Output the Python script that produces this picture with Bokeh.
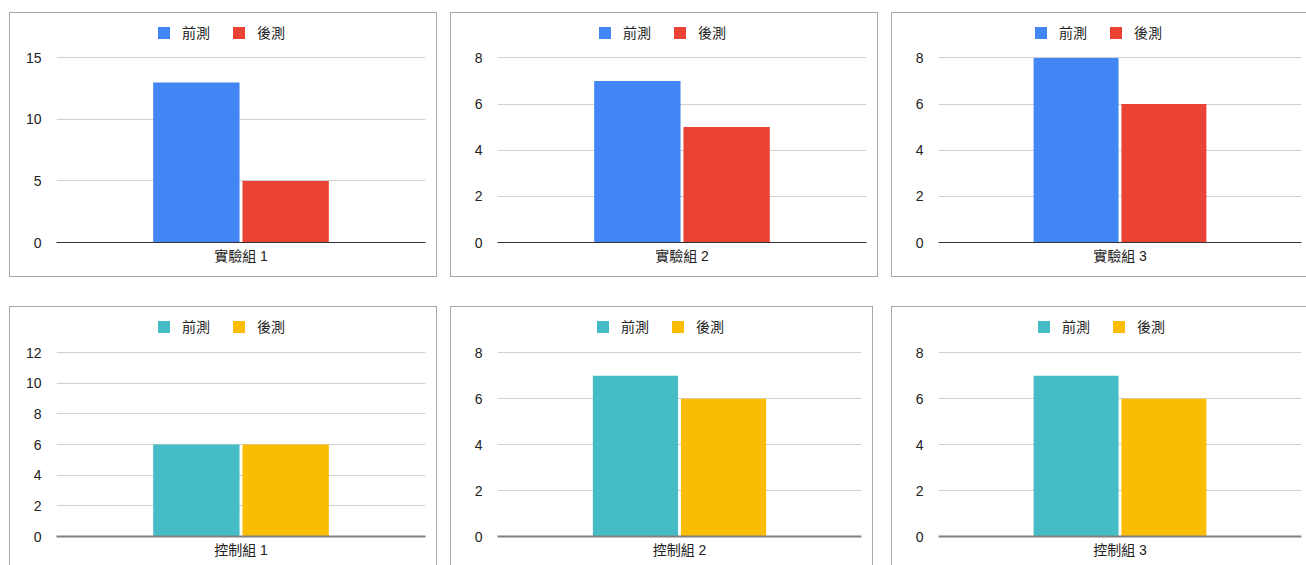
from bokeh.plotting import figure
from bokeh.models import FactorRange, Range1d, FixedTicker, Legend, LegendItem, ColumnDataSource
from bokeh.transform import dodge
from bokeh.layouts import row, column
from bokeh.embed import file_html
from bokeh.resources import INLINE

# ---- data ----
series_labels = ["前測", "後測"]

groups_exp = ["實驗組 1", "實驗組 2", "實驗組 3"]
pre_exp = [13, 7, 8]
post_exp = [5, 5, 6]
ymax_exp = [15, 8, 8]
ystep_exp = [5, 2, 2]

groups_ctrl = ["控制組 1", "控制組 2", "控制組 3"]
pre_ctrl = [6, 7, 7]
post_ctrl = [6, 6, 6]
ymax_ctrl = [12, 8, 8]
ystep_ctrl = [2, 2, 2]

colors_exp = ["#4285F4", "#EA4335"]
colors_ctrl = ["#46BDC6", "#FBBC04"]

FONT = "Liberation Sans, Noto Sans CJK TC"
TXT = "#222222"
BORDER = "1px solid #a8a8a8"
AXIS_PX = 183  # pixel height of the value axis from 0 to its max


def make_panel(group, pre, post, colors, ymax, step, width, height, inner_h,
               mb, top_gap, borders, baseline_color, baseline_width, legend_x, margin):
    frame_h = inner_h - mb[3]
    y_end = ymax * frame_h / AXIS_PX
    p = figure(x_range=FactorRange(factors=[group]), y_range=Range1d(0, y_end),
               width=width, height=height, output_backend="svg",
               toolbar_location=None, min_border_left=mb[0], min_border_right=mb[1],
               min_border_top=0, min_border_bottom=mb[3])
    src = ColumnDataSource(dict(g=[group], pre=[pre], post=[post]))
    r1 = p.vbar(x=dodge("g", -0.121, range=p.x_range), top="pre", width=0.234,
                source=src, fill_color=colors[0], line_color=None)
    r2 = p.vbar(x=dodge("g", 0.121, range=p.x_range), top="post", width=0.234,
                source=src, fill_color=colors[1], line_color=None)

    p.outline_line_color = None
    p.background_fill_color = "white"
    p.border_fill_color = "white"
    p.xgrid.grid_line_color = None
    p.ygrid.grid_line_color = "#d0d0d0"
    p.ygrid.grid_line_width = 1
    p.yaxis.ticker = FixedTicker(ticks=list(range(0, ymax + 1, step)))
    p.yaxis.axis_line_color = None
    p.yaxis.major_tick_line_color = None
    p.yaxis.minor_tick_line_color = None
    p.yaxis.major_label_standoff = 9
    p.yaxis.major_label_text_font = FONT
    p.yaxis.major_label_text_font_size = "14px"
    p.yaxis.major_label_text_color = TXT

    p.xaxis.axis_line_color = baseline_color
    p.xaxis.axis_line_width = baseline_width
    p.xaxis.major_tick_line_color = None
    p.xaxis.minor_tick_line_color = None
    p.xaxis.major_label_standoff = -1
    p.xaxis.major_label_text_font = FONT
    p.xaxis.major_label_text_font_size = "14px"
    p.xaxis.major_label_text_color = TXT

    legend = Legend(items=[LegendItem(label=series_labels[0], renderers=[r1]),
                           LegendItem(label=series_labels[1], renderers=[r2])],
                    orientation="horizontal", location=(legend_x, frame_h - top_gap),
                    glyph_width=15, glyph_height=15, label_height=15,
                    label_standoff=11, spacing=21, padding=0, margin=0,
                    border_line_color=None, background_fill_alpha=0,
                    label_text_font=FONT, label_text_font_size="14px",
                    label_text_color=TXT)
    p.add_layout(legend, "center")

    p.styles = borders
    p.margin = margin
    return p


full = {"border": BORDER}
no_right = {"border-top": BORDER, "border-bottom": BORDER, "border-left": BORDER}
no_bottom = {"border-top": BORDER, "border-left": BORDER, "border-right": BORDER}
top_left_only = {"border-top": BORDER, "border-left": BORDER}

p1 = make_panel(groups_exp[0], pre_exp[0], post_exp[0], colors_exp, ymax_exp[0], ystep_exp[0],
                428, 265, 263, (46, 13, 0, 36), 27, full, "#333333", 1, 100, (12, 0, 0, 9))
p2 = make_panel(groups_exp[1], pre_exp[1], post_exp[1], colors_exp, ymax_exp[1], ystep_exp[1],
                428, 265, 263, (46, 13, 0, 36), 27, full, "#333333", 1, 100, (12, 0, 0, 13))
p3 = make_panel(groups_exp[2], pre_exp[2], post_exp[2], colors_exp, ymax_exp[2], ystep_exp[2],
                415, 265, 263, (46, 6, 0, 36), 27, no_right, "#333333", 1, 95, (12, 0, 0, 13))

p4 = make_panel(groups_ctrl[0], pre_ctrl[0], post_ctrl[0], colors_ctrl, ymax_ctrl[0], ystep_ctrl[0],
                428, 259, 258, (46, 13, 0, 30), 28, no_bottom, "#808080", 2, 100, (29, 0, 0, 9))
p5 = make_panel(groups_ctrl[1], pre_ctrl[1], post_ctrl[1], colors_ctrl, ymax_ctrl[1], ystep_ctrl[1],
                423, 259, 258, (46, 13, 0, 30), 28, no_bottom, "#808080", 2, 98, (29, 0, 0, 13))
p6 = make_panel(groups_ctrl[2], pre_ctrl[2], post_ctrl[2], colors_ctrl, ymax_ctrl[2], ystep_ctrl[2],
                415, 259, 258, (46, 6, 0, 30), 28, top_left_only, "#808080", 2, 98, (29, 0, 0, 18))

layout = column(row(p1, p2, p3, spacing=0), row(p4, p5, p6, spacing=0), spacing=0)

open("out.html", "w").write(file_html(layout, INLINE))
